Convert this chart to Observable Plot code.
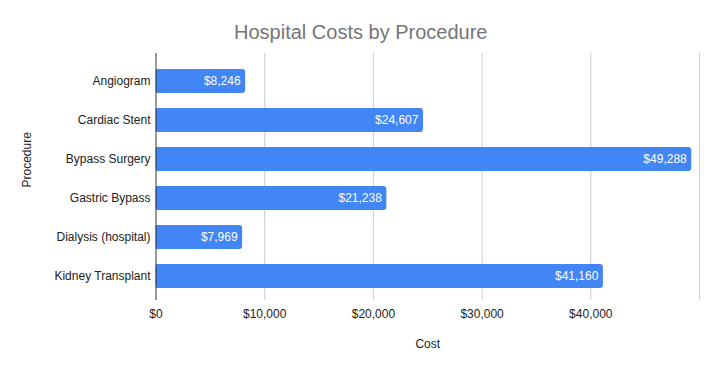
<!DOCTYPE html>
<html>
<head>
<meta charset="utf-8">
<script src="https://cdn.jsdelivr.net/npm/d3@7"></script>
<script src="https://cdn.jsdelivr.net/npm/@observablehq/plot@0.6"></script>
<style>
  html, body { margin: 0; padding: 0; background: #fff; }
  #chart svg { display: block; }
</style>
</head>
<body>
<div id="chart"></div>
<script>
const procedures = ["Angiogram", "Cardiac Stent", "Bypass Surgery", "Gastric Bypass", "Dialysis (hospital)", "Kidney Transplant"];
const costs = [8246, 24607, 49288, 21238, 7969, 41160];
const xTicks = [0, 10000, 20000, 30000, 40000];
const gridLines = [10000, 20000, 30000, 40000, 50000];

const data = procedures.map((p, i) => ({procedure: p, cost: costs[i]}));
const fmt = d3.format("$,");
const font = "'Liberation Sans', Arial, sans-serif";

const chart = Plot.plot({
  width: 718,
  height: 371,
  marginLeft: 155.5,
  marginRight: 19,
  marginTop: 53,
  marginBottom: 71,
  style: {fontFamily: font, fontSize: "12px", color: "#222", background: "#fff"},
  x: {domain: [0, 50000], range: [155.5, 699]},
  y: {domain: procedures, range: [53, 304], paddingInner: 15 / 39, paddingOuter: 16 / 39, round: false},
  marks: [
    Plot.ruleX(gridLines, {stroke: "#cccccc", strokeWidth: 1}),
    Plot.barX(data, {x: "cost", y: "procedure", fill: "#4285F4", rx: 3}),
    Plot.barX(data, {x1: 0, x2: d => d.cost / 2, y: "procedure", fill: "#4285F4", shapeRendering: "crispEdges"}),
    Plot.ruleX([0], {stroke: "#333333", strokeWidth: 1}),
    Plot.text(data, {x: "cost", y: "procedure", text: d => fmt(d.cost), textAnchor: "end", dx: -5, fill: "#ffffff", fontSize: 12}),
    Plot.axisX(xTicks, {tickFormat: d => fmt(d), tickSize: 0, tickPadding: 8.5, fontSize: 12, fill: "#222", label: null}),
    Plot.axisY({tickSize: 0, tickPadding: 5.5, fontSize: 12, fill: "#222", label: null}),
    Plot.text(["Cost"], {frameAnchor: "bottom", lineAnchor: "middle", dy: 44, fontSize: 12, fill: "#222"}),
    Plot.text(["Procedure"], {frameAnchor: "left", lineAnchor: "middle", rotate: -90, dx: -128.5, dy: 10.5, fontSize: 12, fill: "#222"}),
    Plot.text(["Hospital Costs by Procedure"], {frameAnchor: "top", lineAnchor: "middle", dx: -67, dy: -21, fontSize: 20, fill: "#757575"})
  ]
});
document.getElementById("chart").appendChild(chart);
</script>
</body>
</html>
